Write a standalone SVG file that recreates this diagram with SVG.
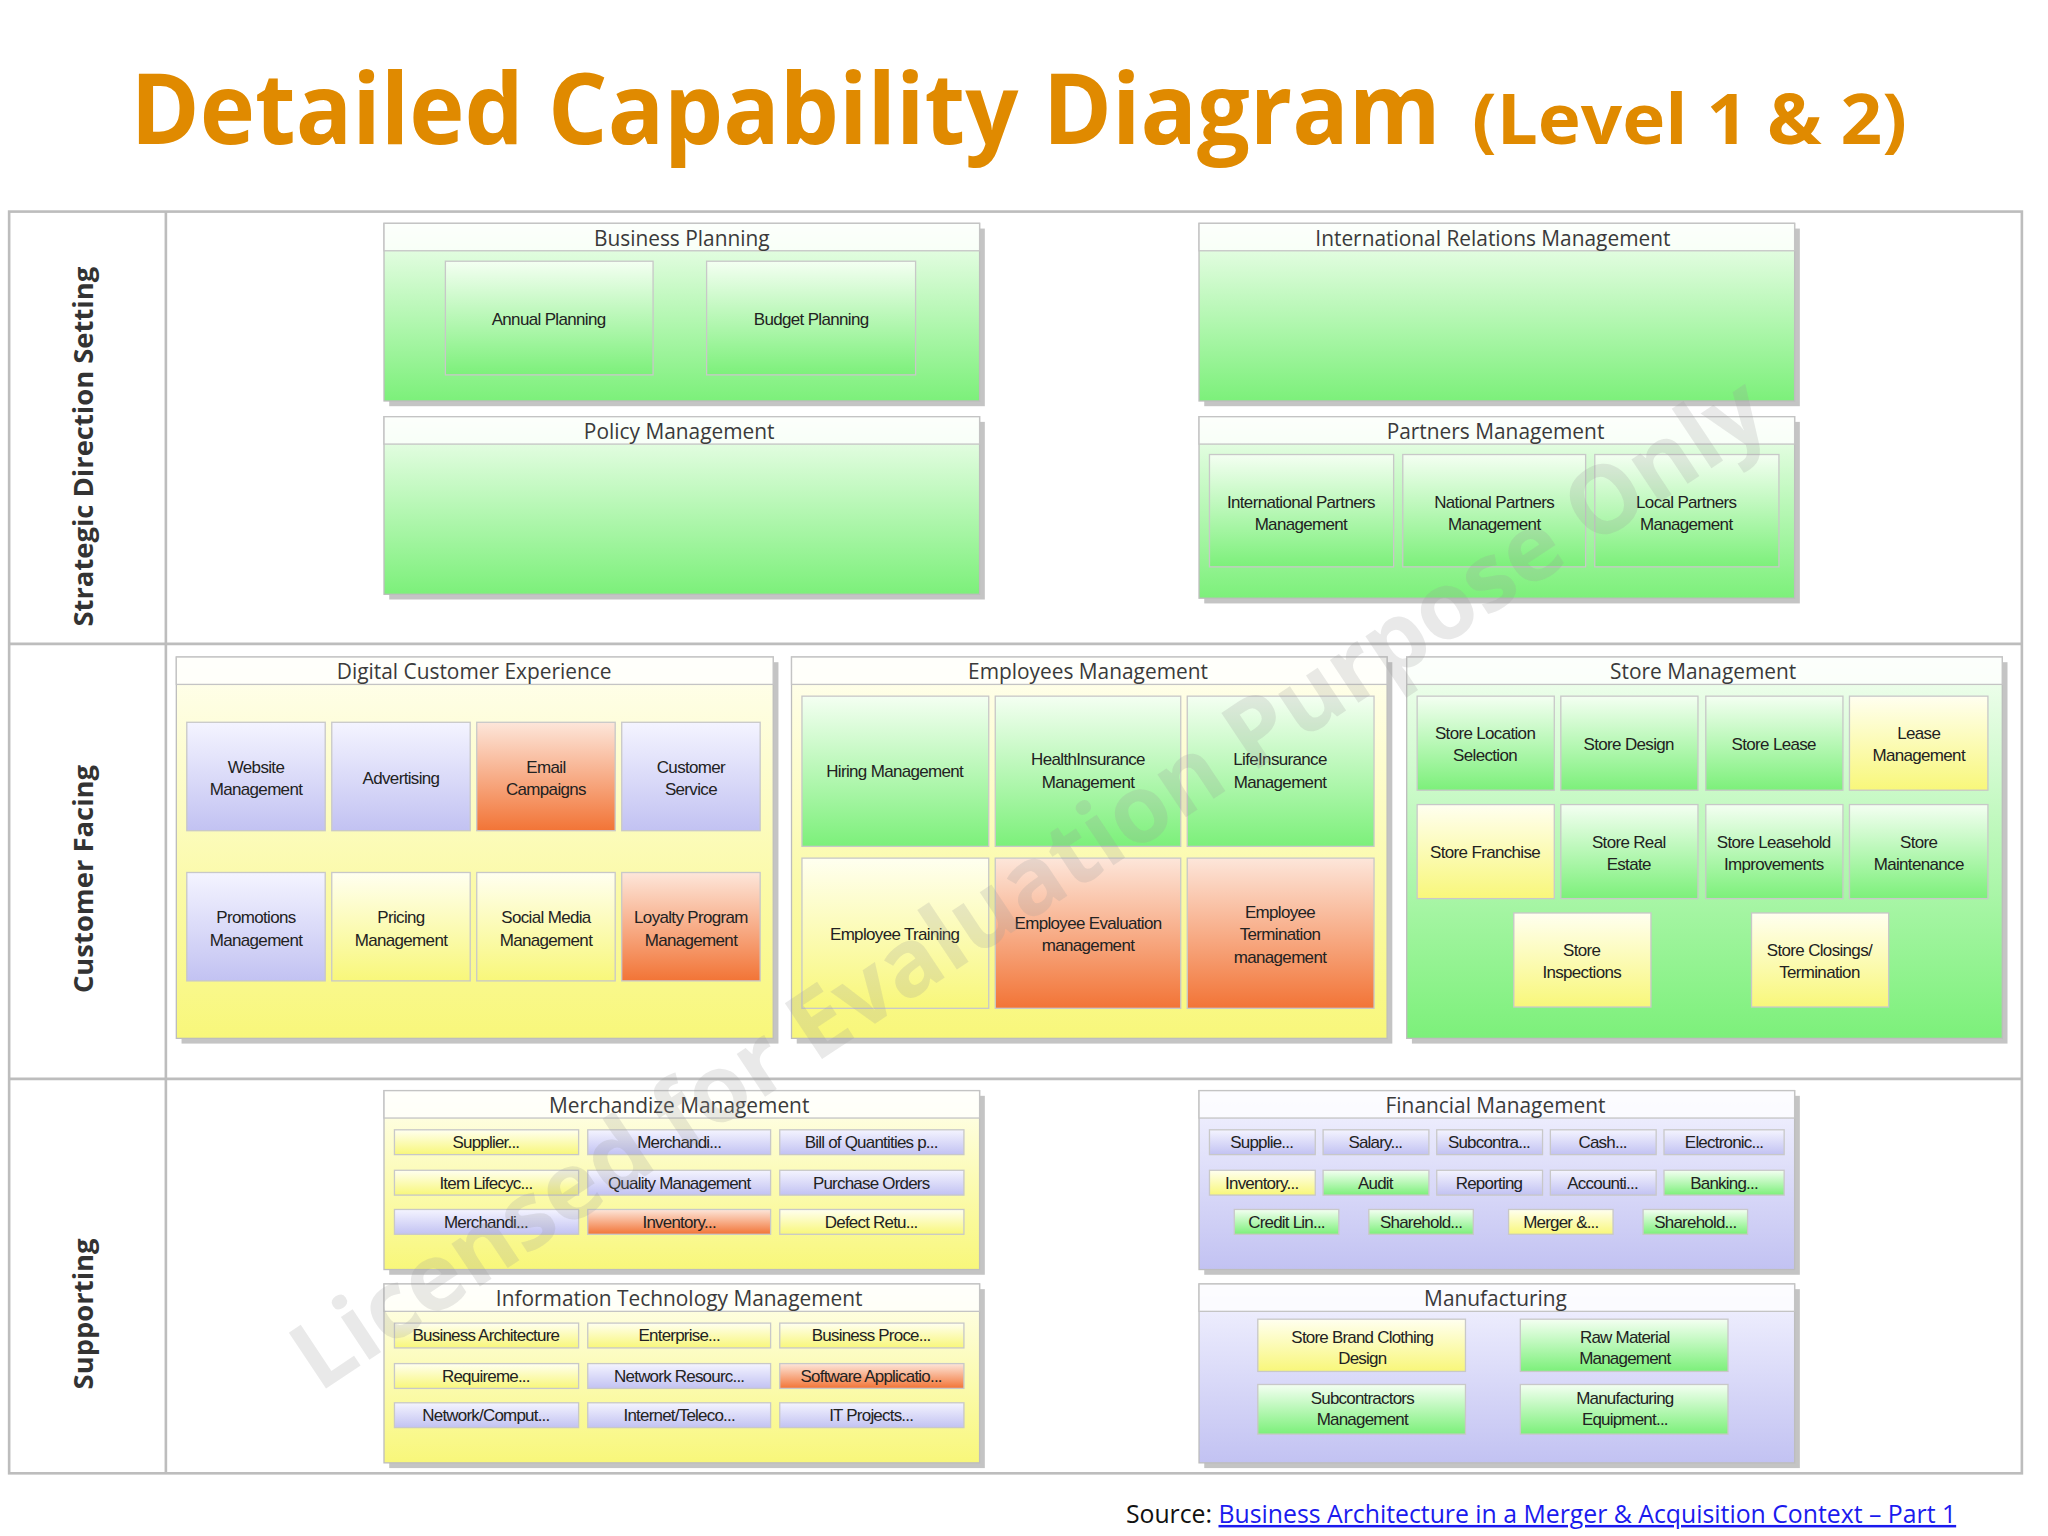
<svg xmlns="http://www.w3.org/2000/svg" width="2048" height="1536" viewBox="0 0 2048 1536">
<defs>
<linearGradient id="gG" x1="0" y1="0" x2="0" y2="1"><stop offset="0" stop-color="#f4fff2"/><stop offset="1" stop-color="#7cf07a"/></linearGradient>
<linearGradient id="gY" x1="0" y1="0" x2="0" y2="1"><stop offset="0" stop-color="#fffff0"/><stop offset="1" stop-color="#f8f77a"/></linearGradient>
<linearGradient id="gB" x1="0" y1="0" x2="0" y2="1"><stop offset="0" stop-color="#f4f4ff"/><stop offset="1" stop-color="#c2c2f2"/></linearGradient>
<linearGradient id="gO" x1="0" y1="0" x2="0" y2="1"><stop offset="0" stop-color="#fde6da"/><stop offset="1" stop-color="#f27436"/></linearGradient>
<style>
.G{fill:url(#gG)}.Y{fill:url(#gY)}.B{fill:url(#gB)}.O{fill:url(#gO)}
.box{stroke:#bdbdbd;stroke-width:1}
.sh{fill:#c4c4c4}
.hd{fill:#ffffff;fill-opacity:0.75;stroke:#c4c4c4;stroke-width:1}
.cell{stroke:#c8c8c8;stroke-width:1}
.ht{font-family:"Open Sans","DejaVu Sans",sans-serif;font-size:16px;fill:#3a3a3a;text-anchor:middle}
.ct{font-family:"Liberation Sans Narrow","Liberation Sans",sans-serif;font-size:13px;fill:#222;text-anchor:middle;letter-spacing:-0.5px}
.st{font-family:"Liberation Sans",sans-serif;font-size:13px;fill:#222;text-anchor:middle;letter-spacing:-0.6px}
.rl{font-family:"Open Sans","DejaVu Sans",sans-serif;font-size:21px;font-weight:bold;fill:#333;text-anchor:middle}
.frame{fill:none;stroke:#bdbdbd;stroke-width:2}
.tt{font-family:"Open Sans","Liberation Sans",sans-serif;font-weight:bold;fill:#e08a00}
</style>
</defs>
<rect width="2048" height="1536" fill="#ffffff"/>
<g transform="scale(1.306122)">
<g id="title">
<text class="tt" x="100" y="110" font-size="76" textLength="1003" lengthAdjust="spacingAndGlyphs">Detailed Capability Diagram</text>
<text class="tt" x="1127" y="110" font-size="54" textLength="333" lengthAdjust="spacingAndGlyphs">(Level 1 &amp; 2)</text>
</g>

<g id="frame">
<rect class="frame" x="7" y="162" width="1541" height="966"/>
<line class="frame" x1="7" y1="493" x2="1548" y2="493"/>
<line class="frame" x1="7" y1="826" x2="1548" y2="826"/>
<line class="frame" x1="127" y1="162" x2="127" y2="1128"/>
<text class="rl" transform="translate(71,342) rotate(-90)">Strategic Direction Setting</text>
<text class="rl" transform="translate(71,673) rotate(-90)">Customer Facing</text>
<text class="rl" transform="translate(71,1006) rotate(-90)">Supporting</text>
</g>

<g id="business-planning">
<rect class="sh" x="298" y="175" width="456" height="136"/>
<rect class="box G" x="294" y="171" width="456" height="136"/>
<rect class="hd" x="294" y="171" width="456" height="21"/>
<text class="ht" x="522" y="188">Business Planning</text>
<rect class="cell G" x="341" y="200" width="159" height="87"/><text class="ct" x="420" y="249">Annual Planning</text>
<rect class="cell G" x="541" y="200" width="160" height="87"/><text class="ct" x="621" y="249">Budget Planning</text>
</g>
<g id="policy-management">
<rect class="sh" x="298" y="323" width="456" height="136"/>
<rect class="box G" x="294" y="319" width="456" height="136"/>
<rect class="hd" x="294" y="319" width="456" height="21"/>
<text class="ht" x="520" y="336">Policy Management</text>
</g>
<g id="international-relations">
<rect class="sh" x="922" y="175" width="456" height="136"/>
<rect class="box G" x="918" y="171" width="456" height="136"/>
<rect class="hd" x="918" y="171" width="456" height="21"/>
<text class="ht" x="1143" y="188">International Relations Management</text>
</g>
<g id="partners-management">
<rect class="sh" x="922" y="323" width="456" height="139"/>
<rect class="box G" x="918" y="319" width="456" height="139"/>
<rect class="hd" x="918" y="319" width="456" height="21"/>
<text class="ht" x="1145" y="336">Partners Management</text>
<rect class="cell G" x="926" y="348" width="141" height="86"/><text class="ct" x="996" y="389"><tspan x="996">International Partners</tspan><tspan x="996" dy="17">Management</tspan></text>
<rect class="cell G" x="1074" y="348" width="140" height="86"/><text class="ct" x="1144" y="389"><tspan x="1144">National Partners</tspan><tspan x="1144" dy="17">Management</tspan></text>
<rect class="cell G" x="1221" y="348" width="141" height="86"/><text class="ct" x="1291" y="389"><tspan x="1291">Local Partners</tspan><tspan x="1291" dy="17">Management</tspan></text>
</g>

<g id="digital-customer-experience">
<rect class="sh" x="139" y="507" width="457" height="292"/>
<rect class="box Y" x="135" y="503" width="457" height="292"/>
<rect class="hd" x="135" y="503" width="457" height="21"/>
<text class="ht" x="363" y="520">Digital Customer Experience</text>
<rect class="cell B" x="143" y="553" width="106" height="83"/><text class="ct" x="196" y="592"><tspan x="196">Website</tspan><tspan x="196" dy="17">Management</tspan></text>
<rect class="cell B" x="254" y="553" width="106" height="83"/><text class="ct" x="307" y="600">Advertising</text>
<rect class="cell O" x="365" y="553" width="106" height="83"/><text class="ct" x="418" y="592"><tspan x="418">Email</tspan><tspan x="418" dy="17">Campaigns</tspan></text>
<rect class="cell B" x="476" y="553" width="106" height="83"/><text class="ct" x="529" y="592"><tspan x="529">Customer</tspan><tspan x="529" dy="17">Service</tspan></text>
<rect class="cell B" x="143" y="668" width="106" height="83"/><text class="ct" x="196" y="707"><tspan x="196">Promotions</tspan><tspan x="196" dy="17">Management</tspan></text>
<rect class="cell Y" x="254" y="668" width="106" height="83"/><text class="ct" x="307" y="707"><tspan x="307">Pricing</tspan><tspan x="307" dy="17">Management</tspan></text>
<rect class="cell Y" x="365" y="668" width="106" height="83"/><text class="ct" x="418" y="707"><tspan x="418">Social Media</tspan><tspan x="418" dy="17">Management</tspan></text>
<rect class="cell O" x="476" y="668" width="106" height="83"/><text class="ct" x="529" y="707"><tspan x="529">Loyalty Program</tspan><tspan x="529" dy="17">Management</tspan></text>
</g>

<g id="employees-management">
<rect class="sh" x="610" y="507" width="456" height="292"/>
<rect class="box Y" x="606" y="503" width="456" height="292"/>
<rect class="hd" x="606" y="503" width="456" height="21"/>
<text class="ht" x="833" y="520">Employees Management</text>
<rect class="cell G" x="614" y="533" width="143" height="115"/><text class="ct" x="685" y="595">Hiring Management</text>
<rect class="cell G" x="762" y="533" width="142" height="115"/><text class="ct" x="833" y="586"><tspan x="833">HealthInsurance</tspan><tspan x="833" dy="17">Management</tspan></text>
<rect class="cell G" x="909" y="533" width="143" height="115"/><text class="ct" x="980" y="586"><tspan x="980">LifeInsurance</tspan><tspan x="980" dy="17">Management</tspan></text>
<rect class="cell Y" x="614" y="657" width="143" height="115"/><text class="ct" x="685" y="720">Employee Training</text>
<rect class="cell O" x="762" y="657" width="142" height="115"/><text class="ct" x="833" y="711"><tspan x="833">Employee Evaluation</tspan><tspan x="833" dy="17">management</tspan></text>
<rect class="cell O" x="909" y="657" width="143" height="115"/><text class="ct" x="980" y="703"><tspan x="980">Employee</tspan><tspan x="980" dy="17">Termination</tspan><tspan x="980" dy="17">management</tspan></text>
</g>

<g id="store-management">
<rect class="sh" x="1081" y="507" width="456" height="292"/>
<rect class="box G" x="1077" y="503" width="456" height="292"/>
<rect class="hd" x="1077" y="503" width="456" height="21"/>
<text class="ht" x="1304" y="520">Store Management</text>
<rect class="cell G" x="1085" y="533" width="105" height="72"/><text class="ct" x="1137" y="566"><tspan x="1137">Store Location</tspan><tspan x="1137" dy="17">Selection</tspan></text>
<rect class="cell G" x="1195" y="533" width="105" height="72"/><text class="ct" x="1247" y="574">Store Design</text>
<rect class="cell G" x="1306" y="533" width="105" height="72"/><text class="ct" x="1358" y="574">Store Lease</text>
<rect class="cell Y" x="1416" y="533" width="106" height="72"/><text class="ct" x="1469" y="566"><tspan x="1469">Lease</tspan><tspan x="1469" dy="17">Management</tspan></text>
<rect class="cell Y" x="1085" y="616" width="105" height="72"/><text class="ct" x="1137" y="657">Store Franchise</text>
<rect class="cell G" x="1195" y="616" width="105" height="72"/><text class="ct" x="1247" y="649"><tspan x="1247">Store Real</tspan><tspan x="1247" dy="17">Estate</tspan></text>
<rect class="cell G" x="1306" y="616" width="105" height="72"/><text class="ct" x="1358" y="649"><tspan x="1358">Store Leasehold</tspan><tspan x="1358" dy="17">Improvements</tspan></text>
<rect class="cell G" x="1416" y="616" width="106" height="72"/><text class="ct" x="1469" y="649"><tspan x="1469">Store</tspan><tspan x="1469" dy="17">Maintenance</tspan></text>
<rect class="cell Y" x="1159" y="699" width="105" height="72"/><text class="ct" x="1211" y="732"><tspan x="1211">Store</tspan><tspan x="1211" dy="17">Inspections</tspan></text>
<rect class="cell Y" x="1341" y="699" width="105" height="72"/><text class="ct" x="1393" y="732"><tspan x="1393">Store Closings/</tspan><tspan x="1393" dy="17">Termination</tspan></text>
</g>

<g id="merchandize-management">
<rect class="sh" x="298" y="839" width="456" height="137"/>
<rect class="box Y" x="294" y="835" width="456" height="137"/>
<rect class="hd" x="294" y="835" width="456" height="21"/>
<text class="ht" x="520" y="852">Merchandize Management</text>
<rect class="cell Y" x="302" y="865" width="141" height="19"/><text class="st" x="372" y="879">Supplier...</text>
<rect class="cell B" x="450" y="865" width="140" height="19"/><text class="st" x="520" y="879">Merchandi...</text>
<rect class="cell B" x="597" y="865" width="141" height="19"/><text class="st" x="667" y="879">Bill of Quantities p...</text>
<rect class="cell Y" x="302" y="896" width="141" height="19"/><text class="st" x="372" y="910">Item Lifecyc...</text>
<rect class="cell B" x="450" y="896" width="140" height="19"/><text class="st" x="520" y="910">Quality Management</text>
<rect class="cell B" x="597" y="896" width="141" height="19"/><text class="st" x="667" y="910">Purchase Orders</text>
<rect class="cell B" x="302" y="926" width="141" height="19"/><text class="st" x="372" y="940">Merchandi...</text>
<rect class="cell O" x="450" y="926" width="140" height="19"/><text class="st" x="520" y="940">Inventory...</text>
<rect class="cell Y" x="597" y="926" width="141" height="19"/><text class="st" x="667" y="940">Defect Retu...</text>
</g>

<g id="it-management">
<rect class="sh" x="298" y="987" width="456" height="137"/>
<rect class="box Y" x="294" y="983" width="456" height="137"/>
<rect class="hd" x="294" y="983" width="456" height="21"/>
<text class="ht" x="520" y="1000">Information Technology Management</text>
<rect class="cell Y" x="302" y="1013" width="141" height="19"/><text class="st" x="372" y="1027">Business Architecture</text>
<rect class="cell Y" x="450" y="1013" width="140" height="19"/><text class="st" x="520" y="1027">Enterprise...</text>
<rect class="cell Y" x="597" y="1013" width="141" height="19"/><text class="st" x="667" y="1027">Business Proce...</text>
<rect class="cell Y" x="302" y="1044" width="141" height="19"/><text class="st" x="372" y="1058">Requireme...</text>
<rect class="cell B" x="450" y="1044" width="140" height="19"/><text class="st" x="520" y="1058">Network Resourc...</text>
<rect class="cell O" x="597" y="1044" width="141" height="19"/><text class="st" x="667" y="1058">Software Applicatio...</text>
<rect class="cell B" x="302" y="1074" width="141" height="19"/><text class="st" x="372" y="1088">Network/Comput...</text>
<rect class="cell B" x="450" y="1074" width="140" height="19"/><text class="st" x="520" y="1088">Internet/Teleco...</text>
<rect class="cell B" x="597" y="1074" width="141" height="19"/><text class="st" x="667" y="1088">IT Projects...</text>
</g>

<g id="financial-management">
<rect class="sh" x="922" y="839" width="456" height="137"/>
<rect class="box B" x="918" y="835" width="456" height="137"/>
<rect class="hd" x="918" y="835" width="456" height="21"/>
<text class="ht" x="1145" y="852">Financial Management</text>
<rect class="cell B" x="926" y="865" width="81" height="19"/><text class="st" x="966" y="879">Supplie...</text>
<rect class="cell B" x="1013" y="865" width="81" height="19"/><text class="st" x="1053" y="879">Salary...</text>
<rect class="cell B" x="1100" y="865" width="81" height="19"/><text class="st" x="1140" y="879">Subcontra...</text>
<rect class="cell B" x="1187" y="865" width="81" height="19"/><text class="st" x="1227" y="879">Cash...</text>
<rect class="cell B" x="1274" y="865" width="92" height="19"/><text class="st" x="1320" y="879">Electronic...</text>
<rect class="cell Y" x="926" y="896" width="81" height="19"/><text class="st" x="966" y="910">Inventory...</text>
<rect class="cell G" x="1013" y="896" width="81" height="19"/><text class="st" x="1053" y="910">Audit</text>
<rect class="cell B" x="1100" y="896" width="81" height="19"/><text class="st" x="1140" y="910">Reporting</text>
<rect class="cell B" x="1187" y="896" width="81" height="19"/><text class="st" x="1227" y="910">Accounti...</text>
<rect class="cell G" x="1274" y="896" width="92" height="19"/><text class="st" x="1320" y="910">Banking...</text>
<rect class="cell G" x="945" y="926" width="80" height="19"/><text class="st" x="985" y="940">Credit Lin...</text>
<rect class="cell G" x="1048" y="926" width="80" height="19"/><text class="st" x="1088" y="940">Sharehold...</text>
<rect class="cell Y" x="1155" y="926" width="80" height="19"/><text class="st" x="1195" y="940">Merger &amp;...</text>
<rect class="cell G" x="1258" y="926" width="80" height="19"/><text class="st" x="1298" y="940">Sharehold...</text>
</g>

<g id="manufacturing">
<rect class="sh" x="922" y="987" width="456" height="137"/>
<rect class="box B" x="918" y="983" width="456" height="137"/>
<rect class="hd" x="918" y="983" width="456" height="21"/>
<text class="ht" x="1145" y="1000">Manufacturing</text>
<rect class="cell Y" x="963" y="1010" width="159" height="40"/><text class="st" x="1043" y="1028"><tspan x="1043">Store Brand Clothing</tspan><tspan x="1043" dy="16">Design</tspan></text>
<rect class="cell G" x="1164" y="1010" width="159" height="40"/><text class="st" x="1244" y="1028"><tspan x="1244">Raw Material</tspan><tspan x="1244" dy="16">Management</tspan></text>
<rect class="cell G" x="963" y="1060" width="159" height="38"/><text class="st" x="1043" y="1075"><tspan x="1043">Subcontractors</tspan><tspan x="1043" dy="16">Management</tspan></text>
<rect class="cell G" x="1164" y="1060" width="159" height="38"/><text class="st" x="1244" y="1075"><tspan x="1244">Manufacturing</tspan><tspan x="1244" dy="16">Equipment...</tspan></text>
</g>

<g id="watermark"><text x="790" y="700" transform="rotate(-33.6 790 680)" text-anchor="middle" font-family="Open Sans, Liberation Sans, sans-serif" font-weight="bold" font-size="72" fill="#9a9a9a" fill-opacity="0.22">Licensed for Evaluation Purpose Only</text></g>

<g id="source"><text x="862" y="1166" font-family="Open Sans, Liberation Sans, sans-serif" font-size="19" fill="#111">Source: <tspan fill="#1a1aee" text-decoration="underline">Business Architecture in a Merger &amp; Acquisition Context – Part 1</tspan></text></g>
</g>
</svg>
